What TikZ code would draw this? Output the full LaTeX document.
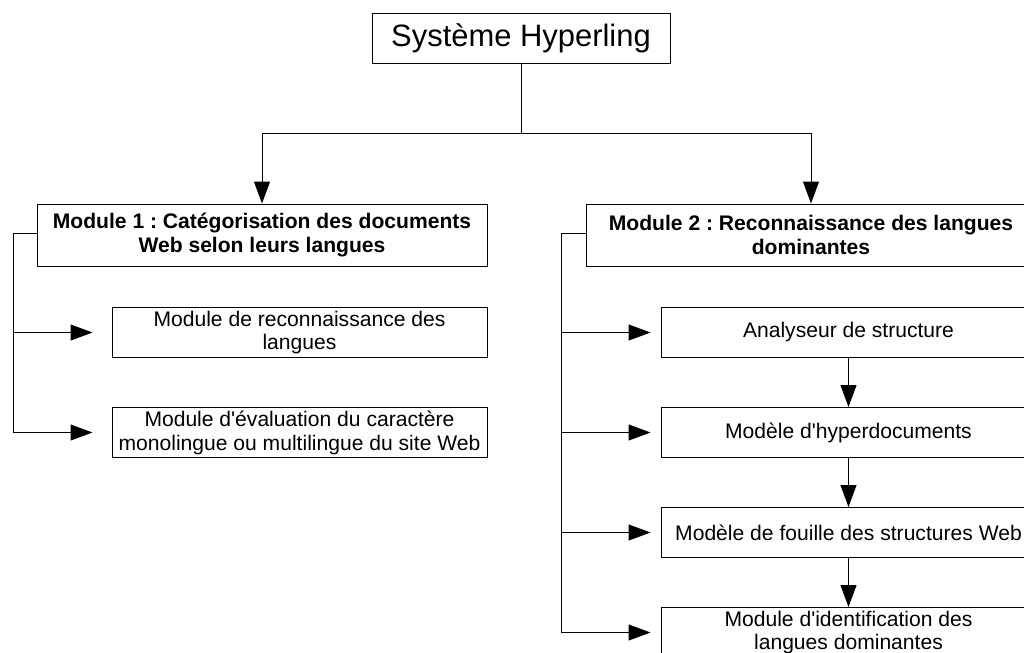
\documentclass[tikz,border=0pt]{standalone}
\usepackage{fontspec}
\setmainfont{Liberation Sans}
\usetikzlibrary{arrows.meta}
\frenchspacing

\begin{document}
\begin{tikzpicture}[
        every node/.style={
            draw,
            line width=0.7pt,
            minimum width=93.75mm,
            minimum height=12.5mm,
            align=center,
            inner sep=0pt,
            font=\fontsize{15}{17}\selectfont
        },
        modul/.style={minimum width=112.5mm, minimum height=15.5mm, font=\fontsize{15}{17.5}\selectfont\bfseries},
        line/.style={-{Triangle[length=5.5mm,width=4mm]}, line width=0.7pt},
        spoj/.style={line width=0.7pt}
    ]
        \useasboundingbox (0,0) rectangle (25.6,-16.3);

        % 1. level
        \node[minimum width=74.5mm, font=\fontsize{22}{26}\selectfont] (sys) at (13.025,-0.95) {Système Hyperling};

        % 2. level
        \node[modul] (mod1) at (6.55,-5.875) {Module 1 : Catégorisation des documents\\Web selon leurs langues};
        \node[modul] (mod2) at (20.275,-5.875) {Module 2 : Reconnaissance des langues\\dominantes};

        % module 1
        \node (reco) at (7.4875,-8.3125) {Module de reconnaissance des\\langues};
        \node (eval) at (7.4875,-10.8125) {Module d\textquotesingle évaluation du caractère\\monolingue ou multilingue du site Web};

        % module 2
        \node (anal) at (21.2125,-8.3125) {Analyseur de structure};
        \node (hyper) at (21.2125,-10.8125) {Modèle d\textquotesingle hyperdocuments};
        \node (fouille) at (21.2125,-13.3125) {Modèle de fouille des structures Web};
        \node (ident) at (21.2125,-15.8125) {Module d\textquotesingle identification des\\langues dominantes};

        % spojnice
        \coordinate (split) at (13.025,-3.325);
        \coordinate (lx) at (0.325,-5.825);
        \coordinate (rx) at (14.025,-5.825);

        \draw[spoj] (sys) -- (split);
        \draw[line] (split) -| (mod1);
        \draw[line] (split) -| (mod2);

        \draw[spoj] (mod1.west |- lx) -- (lx) -- (lx |- eval);
        \draw[line, shorten >=4.75mm] (lx |- reco) -- (reco);
        \draw[line, shorten >=4.75mm] (lx |- eval) -- (eval);

        \draw[spoj] (mod2.west |- rx) -- (rx) -- (rx |- ident);
        \draw[line, shorten >=2.5mm] (rx |- anal) -- (anal);
        \draw[line, shorten >=2.5mm] (rx |- hyper) -- (hyper);
        \draw[line, shorten >=2.5mm] (rx |- fouille) -- (fouille);
        \draw[line, shorten >=2.5mm] (rx |- ident) -- (ident);

        \draw[line] (anal) -- (hyper);
        \draw[line] (hyper) -- (fouille);
        \draw[line] (fouille) -- (ident);

\end{tikzpicture}
\end{document}
